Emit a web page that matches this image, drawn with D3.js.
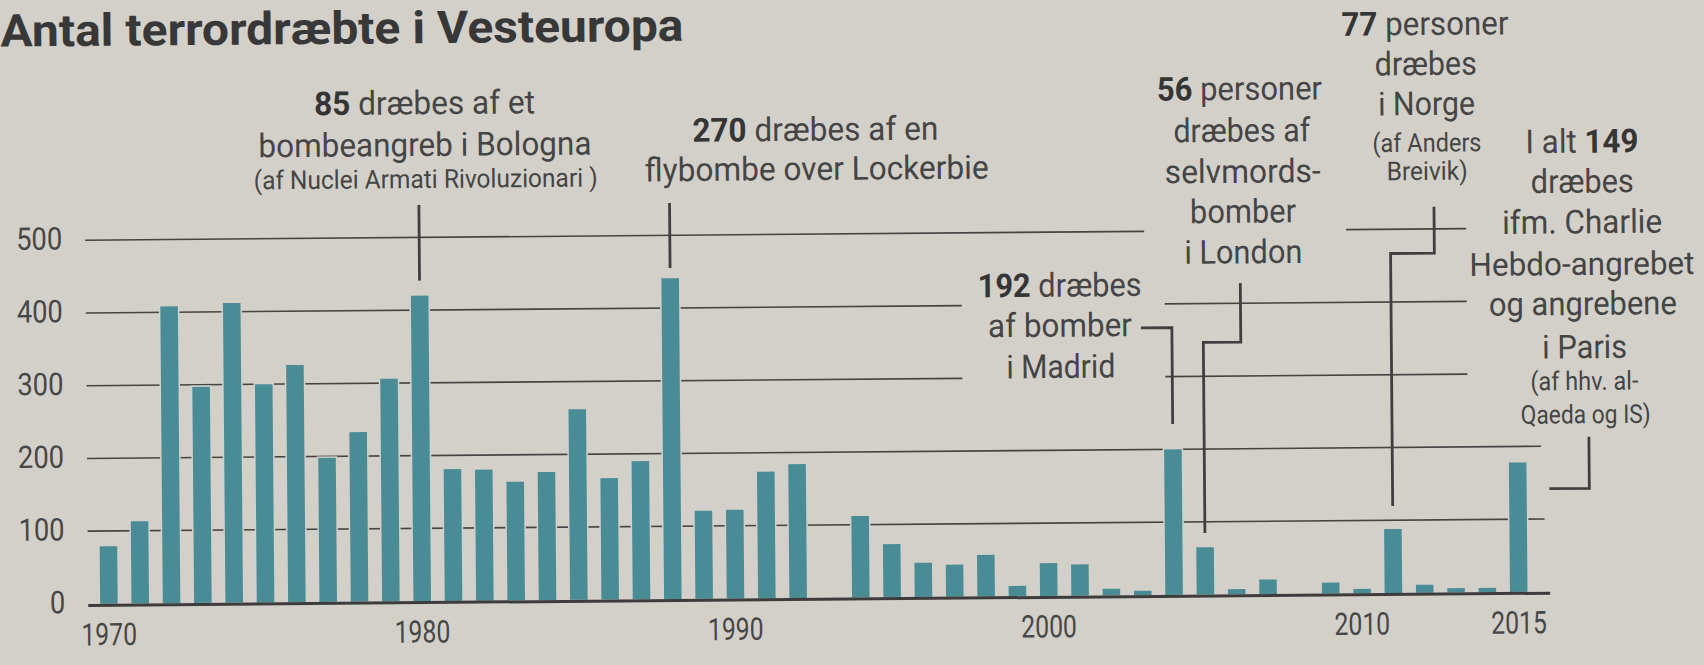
<!DOCTYPE html>
<html><head><meta charset="utf-8">
<script src="https://cdn.jsdelivr.net/npm/d3@7"></script>
<style>
html,body{margin:0;padding:0;background:#d3d0c9;}
svg{display:block;}
text{font-family:Roboto,"Liberation Sans",sans-serif;white-space:pre;}
</style></head><body>
<svg id="chart" width="1704" height="665"></svg>
<script>
// ---------- DATA ----------
const years = [1970,1971,1972,1973,1974,1975,1976,1977,1978,1979,
               1980,1981,1982,1983,1984,1985,1986,1987,1988,1989,
               1990,1991,1992,1993,1994,1995,1996,1997,1998,1999,
               2000,2001,2002,2003,2004,2005,2006,2007,2008,2009,
               2010,2011,2012,2013,2014,2015];
const deaths = [79,113,408,297,412,300,326,198,233,306,
                420,181,180,163,176,262,167,190,441,121,
                122,174,184,0,112,73,47,44,57,14,
                45,43,9,6,200,65,7,20,0,15,
                6,88,11,6,6,178];
const yTicks = [0,100,200,300,400,500];
const xTickLabels = [1970,1980,1990,2000,2010,2015];
const title = "Antal terrordræbte i Vesteuropa";

// annotation texts: each line = list of [text, bold]
const noteBologna = [
  [["85",1],[" dræbes af et",0]],
  [["bombeangreb i Bologna",0]],
  [["(af Nuclei Armati Rivoluzionari )",0]]
];
const noteLockerbie = [
  [["270",1],[" dræbes af en",0]],
  [["flybombe over Lockerbie",0]]
];
const noteMadrid = [
  [["192",1],[" dræbes",0]],
  [["af bomber",0]],
  [["i Madrid",0]]
];
const noteLondon = [
  [["56",1],[" personer",0]],
  [["dræbes af",0]],
  [["selvmords-",0]],
  [["bomber",0]],
  [["i London",0]]
];
const noteNorway = [
  [["77",1],[" personer",0]],
  [["dræbes",0]],
  [["i Norge",0]],
  [["(af Anders",0]],
  [["Breivik)",0]]
];
const noteParis = [
  [["I alt ",0],["149",1]],
  [["dræbes",0]],
  [["ifm. Charlie",0]],
  [["Hebdo-angrebet",0]],
  [["og angrebene",0]],
  [["i Paris",0]],
  [["(af hhv. al-",0]],
  [["Qaeda og IS)",0]]
];

// ---------- LAYOUT ----------
const W = 1704, H = 665;
const svg = d3.select("#chart");
svg.append("rect").attr("width", W).attr("height", H).attr("fill", "#d3d0c9");
const g = svg.append("g").attr("transform", "rotate(-0.48,852,332)");

const x = d3.scaleBand().domain(years).range([91, 1532.2]).paddingInner(0.44).paddingOuter(0.22);
const y = d3.scaleLinear().domain([0, 500]).range([597.5, 233.8]);
const cx = d => x(d) + x.bandwidth() / 2;

const ink = "#444";
// gridline segments (interrupted by annotations)
const gridSegs = {
  500: [[86, 1145], [1347, 1467]],
  400: [[86, 962], [1165, 1467]],
  300: [[86, 962], [1165, 1467]],
  200: [[86, 1540]],
  100: [[86, 1543]]
};
yTicks.filter(v => v > 0).forEach(v => {
  gridSegs[v].forEach(s => {
    g.append("line").attr("x1", s[0]).attr("x2", s[1])
      .attr("y1", y(v)).attr("y2", y(v))
      .attr("stroke", ink).attr("stroke-width", 1.6);
  });
});

// bars
g.selectAll("rect.bar").data(years).join("rect").attr("class", "bar")
  .attr("x", d => x(d))
  .attr("y", (d, i) => y(deaths[i]))
  .attr("width", x.bandwidth())
  .attr("height", (d, i) => y(0) - y(deaths[i]))
  .attr("fill", "#4a8c95")
  .attr("stroke", "#d3d0c9").attr("stroke-width", 3)
  .attr("paint-order", "stroke");

// baseline
g.append("line").attr("x1", 86).attr("x2", 1548)
  .attr("y1", y(0) + 1.5).attr("y2", y(0) + 1.5)
  .attr("stroke", "#3c3c3c").attr("stroke-width", 3);

function squeeze(sel, factor) {
  sel.each(function () {
    const n = this.getComputedTextLength();
    d3.select(this).attr("textLength", n * factor).attr("lengthAdjust", "spacingAndGlyphs");
  });
}

// y labels
const yl = g.selectAll("text.yl").data(yTicks).join("text").attr("class", "yl")
  .attr("x", 63).attr("y", d => y(d) + 9)
  .attr("text-anchor", "end").attr("font-size", 31).attr("fill", "#474747")
  .text(d => d);
squeeze(yl, 0.88);

// x labels
const xl = g.selectAll("text.xl").data(xTickLabels).join("text").attr("class", "xl")
  .attr("x", d => cx(d)).attr("y", y(0) + 41.5)
  .attr("text-anchor", "middle").attr("font-size", 31).attr("fill", "#474747")
  .text(d => d);
squeeze(xl, 0.8);

// title
g.append("text").attr("x", 3).attr("y", 39.5)
  .attr("font-size", 45).attr("font-weight", 700).attr("fill", "#383838")
  .attr("textLength", 683).attr("lengthAdjust", "spacingAndGlyphs")
  .text(title);

// annotations: per line [left, right, baseline, size]
function addNote(lines, lay) {
  lines.forEach((parts, i) => {
    const L = lay[i];
    let fs = L[3] === "S" ? 26 : 33;
    const t = g.append("text").attr("x", L[0]).attr("y", L[2])
      .attr("font-size", fs).attr("fill", "#454545");
    parts.forEach(p => t.append("tspan").text(p[0])
      .attr("font-weight", p[1] ? 700 : 400)
      .attr("fill", p[1] ? "#353535" : null));
    // keep natural extent inside the page
    const nat = t.node().getComputedTextLength();
    if (L[0] + nat > W - 4) {
      fs = fs * (W - 4 - L[0]) / nat;
      t.attr("font-size", fs);
    }
    t.attr("textLength", L[1] - L[0]).attr("lengthAdjust", "spacingAndGlyphs");
  });
}
addNote(noteBologna, [[316,537,110.7,"L"],[260,593,152.4,"L"],[255,599,184.4,"S"]]);
addNote(noteLockerbie, [[694,940,140.4,"L"],[646,990,179.7,"L"]]);
addNote(noteMadrid, [[978,1142,298.4,"L"],[988,1132,338.4,"L"],[1006,1115,379.7,"L"]]);
addNote(noteLondon, [[1159,1324,103.3,"L"],[1175,1312,145,"L"],[1166,1322,186,"L"],[1191,1297,226,"L"],[1185,1303,266.6,"L"]]);
addNote(noteNorway, [[1344,1511,39.8,"L"],[1377,1479,79.8,"L"],[1380,1477,119.8,"L"],[1374,1483,156.5,"S"],[1388,1469,184.8,"S"]]);
addNote(noteParis, [[1527,1640,158.8,"L"],[1532,1635,198.8,"L"],[1503,1663,239.4,"L"],[1470,1695,281.1,"L"],[1489,1677,321,"L"],[1542,1627,364.4,"L"],[1530,1638,396.1,"S"],[1520,1650,429.4,"S"]]);

// leader lines
const leaders = [
  `M${cx(1980)},201.4V277`,
  `M${cx(1988)},201.5V266.5`,
  `M1141,330.3H${cx(2004)}V426.7`,
  `M1240.7,286.3V345.3H${cx(2005)}V536`,
  `M1435,211.6V258H${cx(2011)}V510.5`,
  `M1588,442.9V494.5H1548`
];
g.selectAll("path.leader").data(leaders).join("path").attr("class", "leader")
  .attr("d", d => d).attr("fill", "none")
  .attr("stroke", "#3f3f3f").attr("stroke-width", 2.8);
</script>
</body></html>
